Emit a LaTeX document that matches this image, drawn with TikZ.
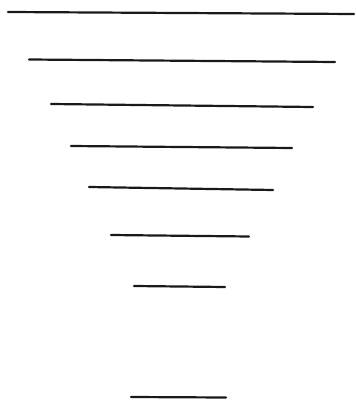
\documentclass[tikz,border=0pt]{standalone}
\begin{document}
\begin{tikzpicture}[x=1pt,y=-1pt,bar/.style={line width=2.2pt,line cap=round,black!90}]
\useasboundingbox (0,0) rectangle (355,403);
\draw[bar] (8,12) -- (354,14);
\draw[bar] (29,59.5) -- (335,62);
\draw[bar] (51,104) -- (313,107);
\draw[bar] (71,146) -- (292,148);
\draw[bar] (89,187) -- (273,190);
\draw[bar] (111,235) -- (249,236.5);
\draw[bar] (134,286) -- (225,287);
\draw[bar] (131,397) -- (226,397.5);
\end{tikzpicture}
\end{document}
